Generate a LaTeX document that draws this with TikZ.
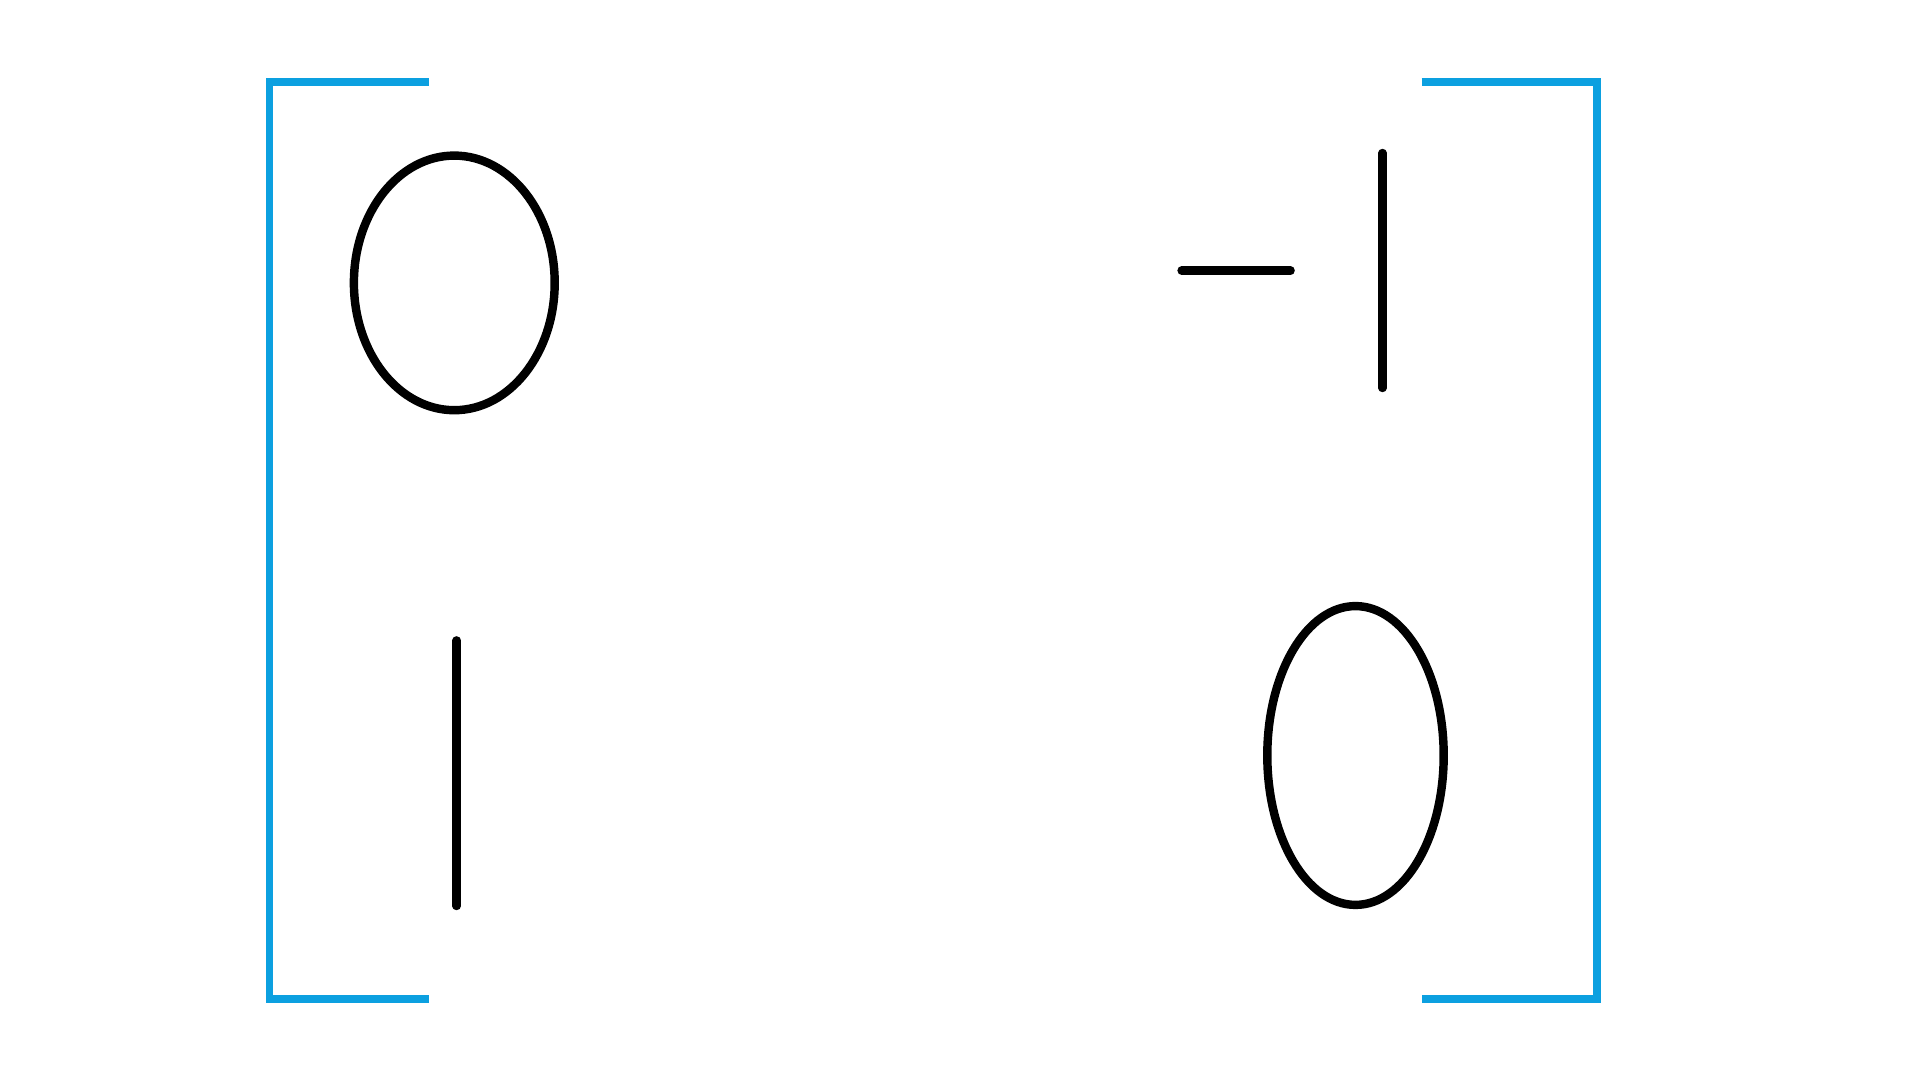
\documentclass[tikz,border=0pt]{standalone}
\definecolor{bracketblue}{RGB}{12,160,224}
\begin{document}
\begin{tikzpicture}[x=0.01cm, y=-0.01cm]
        \useasboundingbox (0,0) rectangle (1920,1080);
        
        % Brackets
        \draw[bracketblue, line width=2.1pt] (428.6,82) -- (269.4,82) -- (269.4,999) -- (428.6,999);
        \draw[bracketblue, line width=2.1pt] (1421.6,82) -- (1596.8,82) -- (1596.8,999) -- (1421.6,999);
        
        % Top row: 0 and -1
        \draw[line width=2.4pt] (454.3,282.9) ellipse (100.4 and 127.3);
        \draw[line width=2.4pt, line cap=round] (1181.6,270.6) -- (1290.6,270.6);
        \draw[line width=2.4pt, line cap=round] (1382.5,153) -- (1382.5,388);
        
        % Bottom row: 1 and 0
        \draw[line width=2.4pt, line cap=round] (456.7,640.4) -- (456.7,906);
        \draw[line width=2.4pt] (1355.5,755.5) ellipse (88.2 and 149.4);
        
    \end{tikzpicture}
\end{document}
